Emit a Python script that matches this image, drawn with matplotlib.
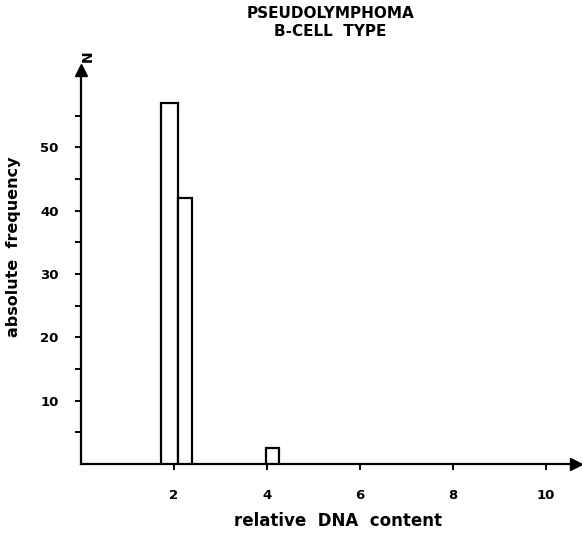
import matplotlib
matplotlib.use("Agg")
import matplotlib.pyplot as plt

# Data
bin_left = [1.71, 2.08, 3.98]
bin_right = [2.08, 2.39, 4.25]
counts = [57, 42, 2.5]
xticks = [2, 4, 6, 8, 10]
yticks = [10, 20, 30, 40, 50]
yminor = [5, 15, 25, 35, 45, 55]

W, H = 582, 533
fig = plt.figure(figsize=(W / 100, H / 100), dpi=100)
x0, y0 = 81, 464
x1, y1 = 576, 70
ax = fig.add_axes([x0 / W, (H - y0) / H, (x1 - x0) / W, (y0 - y1) / H])
ax.set_xlim(0, 10.64)
ax.set_ylim(0, 62.2)

widths = [r - l for l, r in zip(bin_left, bin_right)]
ax.bar(bin_left, counts, width=widths, align='edge', facecolor='white',
       edgecolor='black', linewidth=1.6, zorder=3)

for s in ['top', 'right']:
    ax.spines[s].set_visible(False)
for s in ['left', 'bottom']:
    ax.spines[s].set_linewidth(1.6)

# arrows
ax.plot([10.64], [0], marker='>', color='black', markersize=8, clip_on=False, zorder=5)
ax.plot([0], [62.2], marker='^', color='black', markersize=8, clip_on=False, zorder=5)

ax.set_xticks(xticks)
ax.set_xticklabels([str(v) for v in xticks], fontweight='bold', fontsize=9.5)
ax.set_yticks(yticks)
ax.set_yticklabels([str(v) for v in yticks], fontweight='bold', fontsize=9.5)
ax.set_yticks(yminor, minor=True)
ax.tick_params(axis='both', which='major', direction='out', length=4, width=1.4, pad=12)
ax.tick_params(axis='y', which='minor', direction='out', length=4, width=1.4)
ax.tick_params(axis='x', pad=14)

fig.text(330 / W, 1 - 14 / H, "PSEUDOLYMPHOMA", ha='center', va='center',
         fontsize=11, fontweight='bold')
fig.text(330 / W, 1 - 31 / H, "B-CELL  TYPE", ha='center', va='center',
         fontsize=11, fontweight='bold')
fig.text(88 / W, 1 - 56 / H, "N", rotation=90, ha='center', va='center',
         fontsize=10, fontweight='bold')
fig.text(14 / W, 1 - 247 / H, "absolute  frequency", rotation=90, ha='center',
         va='center', fontsize=11.5, fontweight='bold')
fig.text(338 / W, 1 - 521 / H, "relative  DNA  content", ha='center',
         va='center', fontsize=12, fontweight='bold')

fig.savefig("out.png", dpi=100)
